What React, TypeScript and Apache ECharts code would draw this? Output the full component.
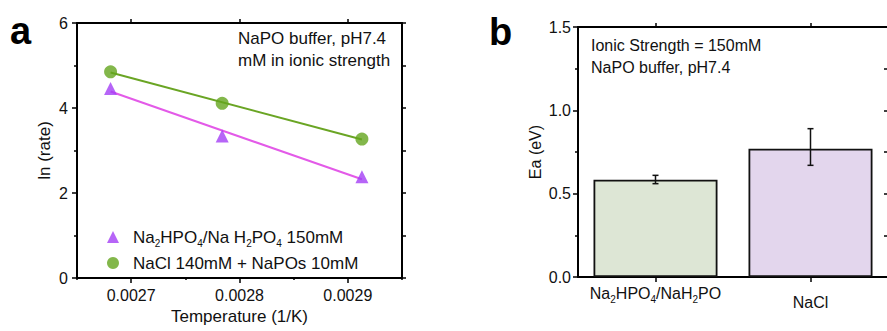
import React, { useEffect, useRef } from "react";
import * as echarts from "echarts";

// ---------- Panel a data ----------
const invTemperature = [0.002681, 0.002784, 0.002913];
const lnRatePhosphate = [4.46, 3.34, 2.38];
const lnRateNaCl = [4.85, 4.11, 3.27];
const xTicksA = [0.0027, 0.0028, 0.0029];
const xMinorTicksA = [0.00265, 0.00275, 0.00285, 0.00295];
const seriesNamesA = ["Na2HPO4/NaH2PO4 150mM", "NaCl 140mM + NaPOs 10mM"];

// ---------- Panel b data ----------
const barCategories = ["Na2HPO4/NaH2PO", "NaCl"];
const eaValues = [0.584, 0.77];
const eaErrLow = [0.56, 0.67];
const eaErrHigh = [0.61, 0.89];

const FONT = "Liberation Sans, Arial, sans-serif";
const INK = "#111111";

function linearFit(xs: number[], ys: number[]) {
  const n = xs.length;
  const mx = xs.reduce((a, b) => a + b, 0) / n;
  const my = ys.reduce((a, b) => a + b, 0) / n;
  let sxy = 0, sxx = 0;
  for (let i = 0; i < n; i++) {
    sxy += (xs[i] - mx) * (ys[i] - my);
    sxx += (xs[i] - mx) * (xs[i] - mx);
  }
  const k = sxy / sxx;
  const b = my - k * mx;
  const x0 = xs[0], x1 = xs[n - 1];
  return [[x0, k * x0 + b], [x1, k * x1 + b]];
}

const subRich = () => ({
  s: { fontSize: 10, verticalAlign: "bottom", lineHeight: 14, fontFamily: FONT, color: INK },
});

export default function App() {
  const ref = useRef<HTMLDivElement>(null);
  useEffect(() => {
    document.body.style.margin = "0";
    if (!ref.current) return;
    const chart = echarts.init(ref.current, undefined, { renderer: "svg" });

    const axisLine = () => ({ show: true, onZero: false, lineStyle: { color: "#000000", width: 2, opacity: 1 } });
    const tick = (len: number) => ({ show: true, length: len, lineStyle: { color: "#000000", width: 1.5 } });

    const option: any = {
      animation: false,
      backgroundColor: "#ffffff",
      textStyle: { fontFamily: FONT },
      grid: [
        { left: 77, top: 23, width: 325, height: 255, outerBoundsMode: "none", containLabel: false },
        { left: 578, top: 27, width: 310, height: 250, outerBoundsMode: "none", containLabel: false },
      ],
      xAxis: [
        {
          gridIndex: 0, type: "value", position: "bottom", min: 0.00265, max: 0.00295,
          axisLine: axisLine(), splitLine: { show: false },
          axisTick: { ...tick(5), customValues: xTicksA },
          axisLabel: { customValues: xTicksA, formatter: (v: number) => v.toFixed(4), fontSize: 16, color: INK, margin: 9, fontFamily: FONT },
          name: "Temperature (1/K)", nameLocation: "middle", nameGap: 29,
          nameTextStyle: { fontSize: 17, color: INK, fontFamily: FONT },
        },
        {
          gridIndex: 0, type: "value", position: "bottom", min: 0.00265, max: 0.00295,
          axisLine: { show: false }, splitLine: { show: false },
          axisTick: { ...tick(2), customValues: xMinorTicksA },
          axisLabel: { show: false },
        },
        {
          gridIndex: 0, type: "value", position: "top", min: 0.00265, max: 0.00295,
          axisLine: axisLine(), splitLine: { show: false },
          axisTick: { ...tick(4), customValues: xTicksA },
          axisLabel: { show: false },
        },
        {
          gridIndex: 1, type: "category", position: "bottom", data: barCategories,
          axisLine: axisLine(), axisTick: { ...tick(5), alignWithLabel: true },
          axisLabel: {
            interval: 0,
            fontSize: 16, color: INK, margin: 5, fontFamily: FONT,
            formatter: (v: string) => (v === barCategories[0] ? "Na{s|2}HPO{s|4}/NaH{s|2}PO" : "{p|" + v + "}"),
            lineHeight: 22,
            rich: { ...subRich(), p: { fontSize: 16, lineHeight: 28, verticalAlign: "bottom", fontFamily: FONT, color: INK } },
          },
        },
        {
          gridIndex: 1, type: "category", position: "top", data: barCategories,
          axisLine: axisLine(), axisTick: { ...tick(4), alignWithLabel: true },
          axisLabel: { show: false },
        },
      ],
      yAxis: [
        {
          gridIndex: 0, type: "value", position: "left", min: 0, max: 6, interval: 2,
          axisLine: axisLine(), splitLine: { show: false },
          axisTick: tick(5),
          minorTick: { show: true, splitNumber: 2, length: 3, lineStyle: { color: "#000", width: 1.5 } },
          axisLabel: { fontSize: 16, color: INK, margin: 9, fontFamily: FONT },
          name: "ln (rate)", nameLocation: "middle", nameGap: 24,
          nameTextStyle: { fontSize: 17, color: INK, fontFamily: FONT },
        },
        {
          gridIndex: 0, type: "value", position: "right", min: 0, max: 6, interval: 1,
          axisLine: axisLine(), splitLine: { show: false }, axisTick: tick(4), axisLabel: { show: false },
        },
        {
          gridIndex: 1, type: "value", position: "left", min: 0, max: 1.5, interval: 0.5,
          axisLine: axisLine(), splitLine: { show: false },
          axisTick: tick(5),
          minorTick: { show: true, splitNumber: 2, length: 3, lineStyle: { color: "#000", width: 1.5 } },
          axisLabel: { fontSize: 16, color: INK, margin: 7, fontFamily: FONT, formatter: (v: number) => v.toFixed(1) },
          name: "Ea (eV)", nameLocation: "middle", nameGap: 35,
          nameTextStyle: { fontSize: 16, color: INK, fontFamily: FONT },
        },
        {
          gridIndex: 1, type: "value", position: "right", min: 0, max: 1.5, interval: 0.25,
          axisLine: { show: true, lineStyle: { color: "#999", width: 1 } }, splitLine: { show: false },
          axisTick: { ...tick(4), inside: true }, axisLabel: { show: false },
        },
      ],
      legend: {
        orient: "vertical", left: 102, top: 221, itemWidth: 12, itemHeight: 12, itemGap: 4,
        data: seriesNamesA,
        formatter: (n: string) =>
          n === seriesNamesA[0] ? "{g|}Na{s|2}HPO{s|4}/Na H{s|2}PO{s|4} 150mM" : "{g|}" + n,
        textStyle: {
          fontSize: 17, color: INK, lineHeight: 22, fontFamily: FONT,
          rich: { ...subRich(), g: { width: 9 } },
        },
      },
      series: [
        {
          name: "fitPhosphate", type: "line", xAxisIndex: 0, yAxisIndex: 0,
          data: linearFit(invTemperature, lnRatePhosphate), showSymbol: false, symbol: "none",
          lineStyle: { color: "#e35ae8", width: 2 }, z: 2,
        },
        {
          name: "fitNaCl", type: "line", xAxisIndex: 0, yAxisIndex: 0,
          data: linearFit(invTemperature, lnRateNaCl), showSymbol: false, symbol: "none",
          lineStyle: { color: "#6aa524", width: 2 }, z: 2,
        },
        {
          name: seriesNamesA[0], type: "scatter", xAxisIndex: 0, yAxisIndex: 0,
          data: invTemperature.map((x, i) => [x, lnRatePhosphate[i]]),
          symbol: "triangle", symbolSize: 13, itemStyle: { color: "#a43ef5" }, z: 3,
        },
        {
          name: seriesNamesA[1], type: "scatter", xAxisIndex: 0, yAxisIndex: 0,
          data: invTemperature.map((x, i) => [x, lnRateNaCl[i]]),
          symbol: "circle", symbolSize: 13, itemStyle: { color: "#64a51e" }, z: 3,
        },
        {
          name: "Ea", type: "bar", xAxisIndex: 3, yAxisIndex: 2, barWidth: "80%",
          data: eaValues.map((v, i) => ({
            value: v,
            itemStyle: { color: i === 0 ? "#dde6d5" : "#e3d6ed", borderColor: INK, borderWidth: 1.8 },
          })),
        },
        {
          name: "EaErr", type: "custom", xAxisIndex: 3, yAxisIndex: 2, z: 5,
          data: barCategories.map((_, i) => [i, eaErrLow[i], eaErrHigh[i]]),
          renderItem: (params: any, api: any) => {
            const x = api.value(0);
            const lo = api.coord([x, api.value(1)]);
            const hi = api.coord([x, api.value(2)]);
            const cap = 3;
            const st = { stroke: INK, lineWidth: 1.5 };
            return {
              type: "group",
              children: [
                { type: "line", shape: { x1: lo[0], y1: lo[1], x2: hi[0], y2: hi[1] }, style: st },
                { type: "line", shape: { x1: lo[0] - cap, y1: lo[1], x2: lo[0] + cap, y2: lo[1] }, style: st },
                { type: "line", shape: { x1: hi[0] - cap, y1: hi[1], x2: hi[0] + cap, y2: hi[1] }, style: st },
              ],
            };
          },
        },
      ],
      graphic: [
        { type: "text", left: 10, top: 12, style: { text: "a", font: "bold 38px " + FONT, fill: "#000" } },
        { type: "text", left: 489, top: 13, style: { text: "b", font: "bold 38px " + FONT, fill: "#000" } },
        { type: "text", x: 238, y: 38, style: { text: "NaPO buffer, pH7.4", fontSize: 17, fontFamily: FONT, fill: INK, verticalAlign: "middle" } },
        { type: "text", x: 238, y: 60, style: { text: "mM in ionic strength", fontSize: 17, fontFamily: FONT, fill: INK, verticalAlign: "middle" } },
        { type: "text", x: 591, y: 45, style: { text: "Ionic Strength = 150mM", fontSize: 16, fontFamily: FONT, fill: INK, verticalAlign: "middle" } },
        { type: "text", x: 591, y: 67, style: { text: "NaPO buffer, pH7.4", fontSize: 16, fontFamily: FONT, fill: INK, verticalAlign: "middle" } },
      ],
    };
    chart.setOption(option);
    return () => chart.dispose();
  }, []);
  return <div ref={ref} style={{ width: 887, height: 331 }} />;
}
